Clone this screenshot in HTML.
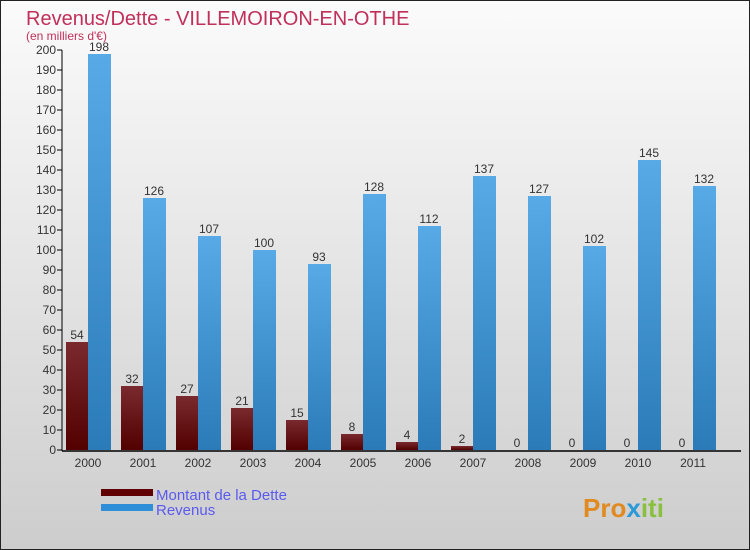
<!DOCTYPE html>
<html><head><meta charset="utf-8"><style>
body{margin:0}
#c{position:relative;width:748px;height:548px;border:1px solid #222;background:linear-gradient(#fbfbfb,#cdcdcd);font-family:"Liberation Sans",sans-serif;overflow:hidden}
</style></head><body>
<div id="c">
<svg id="s" width="748" height="548" style="position:absolute;left:0;top:0">
<defs>
<linearGradient id="gd" x1="0" y1="0" x2="0" y2="1"><stop offset="0" stop-color="#7a2a2e"/><stop offset="1" stop-color="#520000"/></linearGradient>
<linearGradient id="gr" x1="0" y1="0" x2="0" y2="1"><stop offset="0" stop-color="#58aae6"/><stop offset="1" stop-color="#2a7bb8"/></linearGradient>
</defs>
<text x="25" y="24" font-size="20" fill="#c0305a">Revenus/Dette - VILLEMOIRON-EN-OTHE</text>
<text x="25" y="39" font-size="12" fill="#c0305a">(en milliers d'€)</text>
<g id="g"></g>
<rect x="100" y="488" width="52" height="7" fill="#600000"/>
<rect x="100" y="503" width="52" height="7" fill="#2e8fd8"/>
<text x="155" y="499" font-size="15" fill="#5a5af0">Montant de la Dette</text>
<text x="155" y="514" font-size="15" fill="#5a5af0">Revenus</text>
<text x="582" y="516" font-size="26" font-weight="bold" fill="#e08a20">Pro<tspan fill="#2a9ad8">x</tspan><tspan fill="#8ac040">iti</tspan></text>
</svg>
</div>
<script>
const years=["2000","2001","2002","2003","2004","2005","2006","2007","2008","2009","2010","2011"];
const dette=[54,32,27,21,15,8,4,2,0,0,0,0];
const revenus=[198,126,107,100,93,128,112,137,127,102,145,132];
const yTicks=[0,10,20,30,40,50,60,70,80,90,100,110,120,130,140,150,160,170,180,190,200];
const NS="http://www.w3.org/2000/svg";
const g=document.getElementById('g');
const y=v=>449-v*2, x0=i=>65+i*55;
function mk(t,a){const e=document.createElementNS(NS,t);for(const k in a)e.setAttribute(k,a[k]);g.appendChild(e);return e;}
yTicks.forEach(v=>{
 const l=mk('line',{x1:56,x2:61,y1:y(v),y2:y(v),stroke:'#000'});
 
 
 const t=mk('text',{x:55,y:y(v)+4,'font-size':12,'text-anchor':'end',fill:'#333'});t.textContent=v;
 
 
});
years.forEach((yr,i)=>{
 const xd=x0(i);
 const b1=mk('rect',{x:xd,y:y(dette[i]),width:22,height:dette[i]*2,fill:'url(#gd)'});
 
 
 const b2=mk('rect',{x:xd+22,y:y(revenus[i]),width:23,height:revenus[i]*2,fill:'url(#gr)'});
 
 
 const t1=mk('text',{x:xd+11,y:y(dette[i])-3,'font-size':12,'text-anchor':'middle',fill:'#333'});t1.textContent=dette[i];
 
 
 const t2=mk('text',{x:xd+33,y:y(revenus[i])-3,'font-size':12,'text-anchor':'middle',fill:'#333'});t2.textContent=revenus[i];
 
 
 const t3=mk('text',{x:xd+22,y:466,'font-size':12,'text-anchor':'middle',fill:'#333'});t3.textContent=yr;
 
 
});
const ax=mk('line',{x1:61,x2:61,y1:49,y2:450,stroke:'#000'});


const axx=mk('line',{x1:61,x2:740,y1:450,y2:450,stroke:'#000','stroke-width':1.5});


</script>
</body></html>
